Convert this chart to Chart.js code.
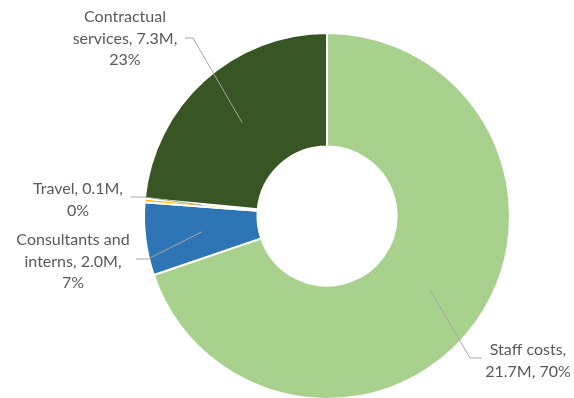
<!DOCTYPE html>
<html>
<head>
<meta charset="utf-8">
<script src="https://cdn.jsdelivr.net/npm/chart.js@4.4.0/dist/chart.umd.min.js"></script>
<style>
  html, body { margin: 0; padding: 0; background: #fff; overflow: hidden; }
  #wrap { position: relative; width: 574px; height: 400px; }
</style>
</head>
<body>
<div id="wrap"><canvas id="myChart"></canvas></div>
<script>
// chart data
var categories = ['Staff costs', 'Consultants and interns', 'Travel', 'Contractual services'];
var amounts = [21.7, 2.0, 0.1, 7.3];        // millions
var percents = [70, 7, 0, 23];
var colors = ['#A9D18E', '#2E75B6', '#FFC000', '#375623'];

// label text lines (as shown on the picture)
var labelLines = [
  ['Staff costs,', '21.7M, 70%'],
  ['Consultants and', 'interns, 2.0M,', '7%'],
  ['Travel, 0.1M,', '0%'],
  ['Contractual', 'services, 7.3M,', '23%']
];

// where each label sits and where its leader line starts
var labelPlace = [
  { x: 528, y: 350, lx: 482, ly: 358, kx: 470 },
  { x: 73, y: 240, lx: 136, ly: 259, kx: 148 },
  { x: 78, y: 189, lx: 131, ly: 197, kx: 145 },
  { x: 125, y: 17, lx: 185, ly: 38, kx: 193 }
];

var outLabels = {
  id: 'outLabels',
  afterDatasetsDraw: function (chart) {
    var ctx = chart.ctx;
    var meta = chart.getDatasetMeta(0);
    ctx.save();
    for (var i = 0; i < labelLines.length; i++) {
      var p = labelPlace[i];
      var c = meta.data[i].getCenterPoint();
      ctx.strokeStyle = '#A6A6A6';
      ctx.lineWidth = 1;
      ctx.beginPath();
      ctx.moveTo(p.lx, p.ly);
      ctx.lineTo(p.kx, p.ly);
      ctx.lineTo(c.x, c.y);
      ctx.stroke();

      ctx.fillStyle = '#595959';
      ctx.font = '16px Lato, "Open Sans", sans-serif';
      ctx.textAlign = 'center';
      ctx.textBaseline = 'middle';
      for (var j = 0; j < labelLines[i].length; j++) {
        ctx.fillText(labelLines[i][j], p.x, p.y + j * 21.5);
      }
    }
    ctx.restore();
  }
};

var ctx = document.getElementById('myChart').getContext('2d');
window.myDonut = new Chart(ctx, {
  type: 'doughnut',
  data: {
    labels: categories,
    datasets: [{
      data: amounts,
      backgroundColor: colors,
      borderColor: '#ffffff',
      borderWidth: 2
    }]
  },
  options: {
    responsive: true,
    maintainAspectRatio: false,
    animation: false,
    cutout: '38%',
    layout: { padding: { top: 32, bottom: 0, left: 143, right: 63 } },
    plugins: {
      legend: { display: false },
      tooltip: { enabled: false }
    }
  },
  plugins: [outLabels]
});
</script>
</body>
</html>
